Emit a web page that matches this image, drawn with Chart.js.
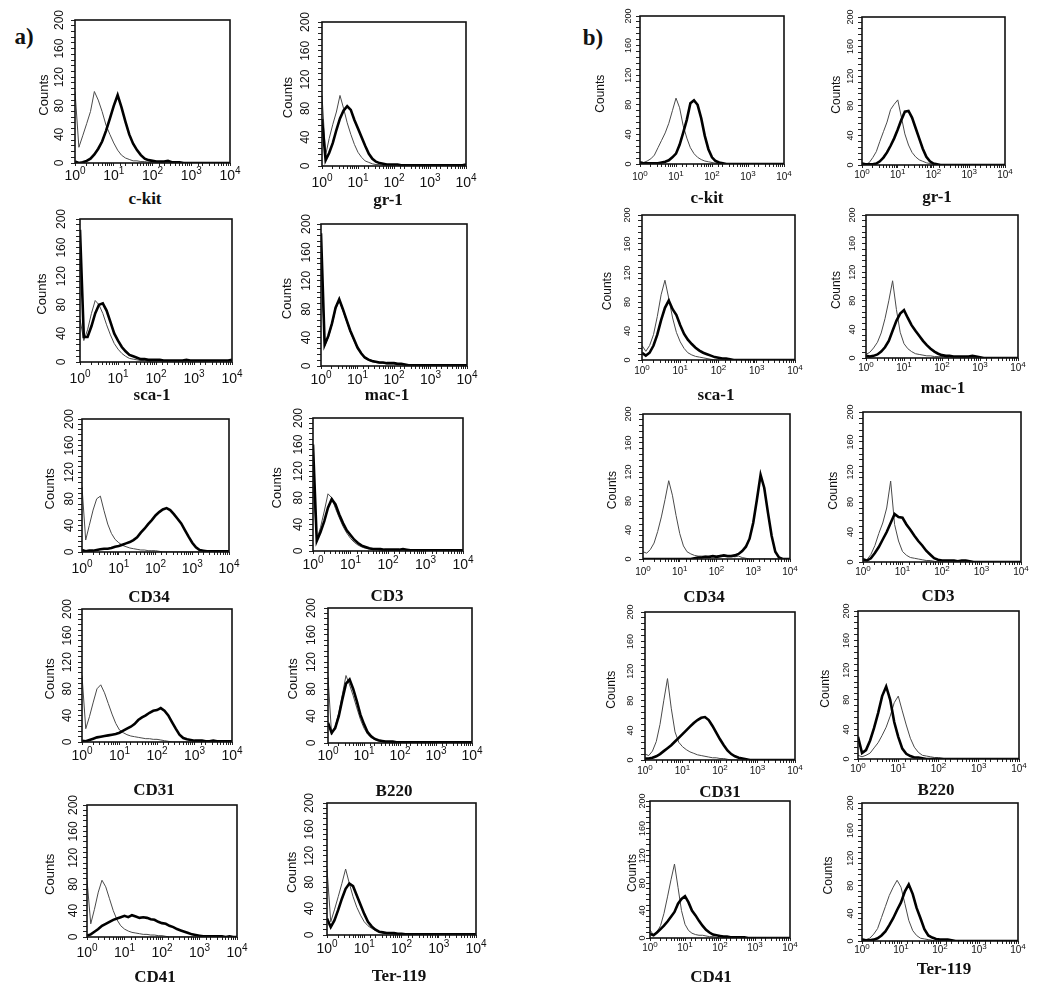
<!DOCTYPE html>
<html lang="en">
<head>
<meta charset="UTF-8">
<title>Flow cytometry histograms</title>
<script src="https://cdn.jsdelivr.net/npm/chart.js@4.4.1/dist/chart.umd.min.js"></script>
<style>
  body { margin: 0; background: #fff; }
  #page { position: relative; width: 1050px; height: 1003px; overflow: hidden; background: #fff; }
  #page canvas { position: absolute; }
  .marker { position: absolute; transform: translate(-50%, -50%); font: bold 17px "Liberation Serif", "Times New Roman", serif; color: #111; white-space: nowrap; }
  .part { position: absolute; transform: translate(-50%, -50%); font: bold 23px "Liberation Serif", "Times New Roman", serif; color: #111; }
</style>
</head>
<body>
<div id="page">
  <div class="part" style="left:24px; top:37px;">a)</div>
  <div class="part" style="left:593px; top:38px;">b)</div>
</div>
<script>
// fluorescence channels, 10 per decade from 10^0 to 10^4
const logX = [1, 1.26, 1.58, 2, 2.51, 3.16, 3.98, 5.01, 6.31, 7.94,
  10, 12.6, 15.8, 20, 25.1, 31.6, 39.8, 50.1, 63.1, 79.4,
  100, 126, 158, 200, 251, 316, 398, 501, 631, 794,
  1000, 1259, 1585, 1995, 2512, 3162, 3981, 5012, 6310, 7943,
  10000];
const countTicks = [0, 40, 80, 120, 160, 200];
const decadeTicks = [1, 10, 100, 1000, 10000];
const decadeExp = ['0', '1', '2', '3', '4'];
const markers = ['c-kit', 'gr-1', 'sca-1', 'mac-1', 'CD34', 'CD3', 'CD31', 'B220', 'CD41', 'Ter-119'];

// a) thin = control, thick = stained
const aCkitThin   = [100,22,38,55,72,100,88,72,53,40, 28,18,11,7,5,3,3,2,2,1, 1,1,1,0,0,0,0,0,0,0, 0,0,0,0,0,0,0,0,0,0, 0];
const aCkitThick  = [2,0,1,3,6,12,20,30,45,62, 80,95,78,58,40,27,18,11,6,4, 3,2,2,2,3,1,1,1,0,0, 0,0,0,0,0,0,0,0,0,0, 0];
const aGr1Thin    = [98,15,38,58,75,98,80,60,44,30, 19,12,7,5,3,2,2,1,0,0, 0,0,0,0,0,0,0,0,0,0, 0,0,0,0,0,0,0,0,0,0, 0];
const aGr1Thick   = [65,8,18,32,50,66,77,83,78,64, 52,40,28,17,10,6,4,3,2,2, 2,2,1,1,1,1,1,1,1,1, 1,1,1,1,1,1,1,1,1,1, 2];
const aScaThin    = [60,30,45,68,86,80,68,52,38,26, 18,12,8,5,4,3,2,2,1,0, 0,0,0,0,0,0,0,0,0,0, 0,0,0,0,0,0,0,0,0,0, 0];
const aScaThick   = [185,35,35,50,68,80,82,72,56,40, 30,21,15,10,8,6,4,4,3,3, 3,3,2,2,2,2,2,2,3,2, 2,2,2,2,2,2,2,2,2,2, 3];
const aMac1Thin   = [150,28,40,58,80,92,78,63,48,36, 25,17,11,8,6,5,4,4,3,3, 3,2,2,1,0,0,0,0,0,0, 0,0,0,0,0,0,0,0,0,0, 0];
const aMac1Thick  = [187,30,42,60,82,94,80,65,50,38, 26,18,12,9,7,6,5,5,4,4, 4,3,3,2,1,1,1,1,1,1, 1,1,1,1,1,1,1,1,1,1, 1];
const aCd34Thin   = [98,18,40,63,80,84,62,42,28,19, 14,10,8,6,5,4,3,3,2,2, 2,1,0,0,0,0,0,0,0,0, 0,0,0,0,0,0,0,0,0,0, 0];
const aCd34Thick  = [3,1,2,2,3,4,5,5,6,8, 9,11,13,15,18,22,29,35,42,48, 55,60,64,66,63,57,50,43,33,23, 14,7,3,2,1,1,1,1,1,1, 1];
const aCd3Thin    = [100,18,35,60,86,80,64,50,37,27, 19,13,9,6,4,3,2,2,1,0, 0,0,0,0,0,0,0,0,0,0, 0,0,0,0,0,0,0,0,0,0, 0];
const aCd3Thick   = [160,15,28,45,65,78,70,55,42,31, 24,17,12,8,6,4,3,3,3,2, 2,2,2,2,3,2,1,1,1,1, 1,1,1,1,1,1,1,1,1,1, 1];
const aCd31Thin   = [100,20,38,60,80,86,74,58,42,28, 18,14,11,9,8,7,6,5,5,4, 4,3,2,1,0,0,0,0,0,0, 0,0,0,0,0,0,0,0,0,0, 0];
const aCd31Thick  = [2,1,3,5,7,8,9,10,11,12, 14,17,20,23,27,33,37,40,44,47, 48,51,47,40,30,20,11,6,4,3, 2,2,2,1,1,2,1,1,1,1, 1];
const aB220Thin   = [98,12,24,45,72,100,86,70,52,35, 22,13,8,5,3,2,1,0,0,0, 0,0,0,0,0,0,0,0,0,0, 0,0,0,0,0,0,0,0,0,0, 0];
const aB220Thick  = [30,15,22,40,65,88,94,80,62,42, 28,16,10,6,4,3,2,2,2,1, 1,1,1,1,1,1,1,1,1,1, 1,1,1,1,1,1,1,1,1,1, 1];
const aCd41Thin   = [86,20,42,68,86,76,58,40,26,17, 12,9,7,6,5,4,4,3,3,2, 2,1,0,0,0,0,0,0,0,0, 0,0,0,0,0,0,0,0,0,0, 0];
const aCd41Thick  = [2,4,8,12,17,20,23,26,28,30, 32,30,33,31,29,30,29,27,26,23, 21,20,17,15,12,10,8,6,4,3, 2,1,1,1,1,1,1,0,1,0, 0];
const aTer119Thin = [100,20,38,58,78,100,78,58,42,30, 20,14,10,7,5,3,2,2,1,0, 0,0,0,0,0,0,0,0,0,0, 0,0,0,0,0,0,0,0,0,0, 0];
const aTer119Thick= [25,12,22,38,55,70,78,74,60,46, 32,20,13,8,5,4,3,3,3,2, 2,1,1,1,1,1,1,1,1,1, 1,1,1,1,1,1,1,1,1,1, 1];

// b)
const bCkitThin   = [3,2,4,7,12,22,32,42,55,72, 89,76,52,35,22,14,9,6,4,3, 2,1,0,0,0,0,0,0,0,0, 0,0,0,0,0,0,0,0,0,0, 0];
const bCkitThick  = [2,1,1,1,1,1,2,3,5,9, 14,26,42,60,82,86,80,62,38,20, 9,4,2,1,0,0,0,0,0,0, 0,0,0,0,0,0,0,0,0,0, 0];
const bGr1Thin    = [3,1,3,10,18,32,45,58,75,82, 88,65,42,27,17,11,7,5,3,2, 1,0,0,0,0,0,0,0,0,0, 0,0,0,0,0,0,0,0,0,0, 0];
const bGr1Thick   = [2,1,1,1,2,5,10,17,26,36, 48,61,72,73,64,50,36,22,11,5, 2,1,0,0,0,0,0,0,0,0, 0,0,0,0,0,0,0,0,0,0, 0];
const bScaThin    = [20,12,20,35,60,90,110,85,58,38, 25,16,10,7,5,4,3,2,1,0, 0,0,0,0,0,0,0,0,0,0, 0,0,0,0,0,0,0,0,0,0, 0];
const bScaThick   = [10,6,10,20,35,55,72,82,70,62, 48,36,28,22,17,13,10,8,6,4, 3,2,2,1,0,0,0,0,0,0, 0,0,0,0,0,0,0,0,0,0, 0];
const bMac1Thin   = [5,8,14,22,35,55,80,108,68,36, 20,13,9,6,5,4,3,3,2,2, 2,1,0,0,0,0,0,0,0,0, 0,0,0,0,0,0,0,0,0,0, 0];
const bMac1Thick  = [3,2,3,5,9,15,24,38,52,62, 67,56,46,38,31,24,18,13,9,6, 4,3,3,2,2,2,2,2,3,2, 1,0,0,0,0,0,0,0,0,0, 0];
const bCd34Thin   = [10,8,13,22,38,58,82,108,88,60, 35,18,10,7,5,4,4,4,3,4, 4,5,4,4,4,3,4,2,1,0, 0,0,0,0,0,0,0,0,0,0, 0];
const bCd34Thick  = [0,0,0,0,0,0,0,0,0,0, 0,0,0,0,1,2,2,3,3,4, 3,4,5,4,4,5,7,11,17,28, 50,82,116,98,64,32,10,2,0,0, 0];
const bCd3Thin    = [5,3,10,22,38,52,72,108,50,28, 14,9,6,5,4,3,2,2,1,0, 0,0,0,0,0,0,0,0,0,0, 0,0,0,0,0,0,0,0,0,0, 0];
const bCd3Thick   = [3,2,5,12,20,30,40,52,64,60, 59,50,43,35,28,22,15,10,5,3, 2,2,2,2,1,2,2,1,0,0, 0,0,0,0,0,0,0,0,0,0, 0];
const bCd31Thin   = [8,6,12,25,48,80,110,70,38,24, 18,14,11,9,7,6,5,4,3,3, 2,2,1,0,0,0,0,0,0,0, 0,0,0,0,0,0,0,0,0,0, 0];
const bCd31Thick  = [2,2,3,5,8,12,16,20,25,30, 35,40,45,50,54,57,58,54,46,37, 28,20,13,8,5,3,2,1,0,0, 0,0,0,0,0,0,0,0,0,0, 0];
const bB220Thin   = [5,3,5,8,15,22,32,43,58,76, 85,65,46,28,16,9,5,4,3,2, 2,1,0,0,0,0,0,0,0,0, 0,0,0,0,0,0,0,0,0,0, 0];
const bB220Thick  = [30,8,12,25,42,62,85,98,80,50, 30,14,7,4,2,2,1,0,0,0, 0,0,0,0,0,0,0,0,0,0, 0,0,0,0,0,0,0,0,0,0, 0];
const bCd41Thin   = [12,4,9,18,36,60,85,108,74,40, 20,11,7,5,4,4,3,2,2,1, 0,0,0,0,0,0,0,0,0,0, 0,0,0,0,0,0,0,0,0,0, 0];
const bCd41Thick  = [6,4,8,13,18,24,31,38,50,57, 61,52,40,33,25,18,12,8,5,4, 3,2,2,1,1,1,1,1,0,0, 0,0,0,0,0,0,0,0,0,0, 0];
const bTer119Thin = [3,2,4,10,18,34,50,66,78,88, 78,54,30,15,8,4,3,2,1,0, 0,0,0,0,0,0,0,0,0,0, 0,0,0,0,0,0,0,0,0,0, 0];
const bTer119Thick= [2,1,1,2,4,8,14,23,33,45, 56,72,82,68,48,33,17,8,5,3, 2,2,2,1,0,0,0,0,0,0, 0,0,0,0,0,0,0,0,0,0, 0];

// panels in reading order: row by row, left then right
const seriesA = [
  [aCkitThin, aCkitThick], [aGr1Thin, aGr1Thick], [aScaThin, aScaThick], [aMac1Thin, aMac1Thick],
  [aCd34Thin, aCd34Thick], [aCd3Thin, aCd3Thick], [aCd31Thin, aCd31Thick], [aB220Thin, aB220Thick],
  [aCd41Thin, aCd41Thick], [aTer119Thin, aTer119Thick]
];
const seriesB = [
  [bCkitThin, bCkitThick], [bGr1Thin, bGr1Thick], [bScaThin, bScaThick], [bMac1Thin, bMac1Thick],
  [bCd34Thin, bCd34Thick], [bCd3Thin, bCd3Thick], [bCd31Thin, bCd31Thick], [bB220Thin, bB220Thick],
  [bCd41Thin, bCd41Thick], [bTer119Thin, bTer119Thick]
];

// plot boxes [left, top, right, bottom] on the page, gaps for the axis texts, label placement
const layoutA = [
  { box: [75, 20, 230, 163],   tickGap: 15, countsGap: 31, xGap: 17, label: [145, 199] },
  { box: [322, 22, 466, 166],  tickGap: 16, countsGap: 34, xGap: 21, label: [388, 200] },
  { box: [80, 219, 232, 362],  tickGap: 18, countsGap: 38, xGap: 21, label: [152, 395] },
  { box: [321, 224, 467, 366], tickGap: 14, countsGap: 34, xGap: 18, label: [387, 395] },
  { box: [82, 419, 229, 552],  tickGap: 12, countsGap: 32, xGap: 21, label: [149, 597] },
  { box: [313, 418, 463, 551], tickGap: 14, countsGap: 36, xGap: 18, label: [387, 596] },
  { box: [82, 609, 232, 742],  tickGap: 14, countsGap: 32, xGap: 18, label: [154, 790] },
  { box: [328, 608, 472, 743], tickGap: 16, countsGap: 35, xGap: 17, label: [394, 791] },
  { box: [87, 805, 237, 937],  tickGap: 13, countsGap: 37, xGap: 20, label: [155, 977] },
  { box: [327, 803, 476, 935], tickGap: 17, countsGap: 35, xGap: 18, label: [399, 976] }
];
const layoutB = [
  { box: [640, 16, 784, 164],   tickGap: 11, countsGap: 39, xGap: 16, label: [707, 198] },
  { box: [862, 17, 1005, 165],  tickGap: 11, countsGap: 25, xGap: 13, label: [937, 197] },
  { box: [642, 215, 795, 360],  tickGap: 14, countsGap: 34, xGap: 14, label: [716, 395] },
  { box: [866, 215, 1018, 358], tickGap: 13, countsGap: 29, xGap: 13, label: [943, 388] },
  { box: [643, 414, 790, 559],  tickGap: 14, countsGap: 30, xGap: 16, label: [704, 597] },
  { box: [863, 412, 1021, 562], tickGap: 12, countsGap: 29, xGap: 13, label: [938, 596] },
  { box: [645, 612, 795, 760],  tickGap: 14, countsGap: 33, xGap: 14, label: [720, 792] },
  { box: [858, 611, 1019, 759], tickGap: 11, countsGap: 32, xGap: 13, label: [936, 790] },
  { box: [650, 801, 790, 938],  tickGap: 7,  countsGap: 17, xGap: 13, label: [711, 977] },
  { box: [862, 803, 1018, 941], tickGap: 11, countsGap: 33, xGap: 12, label: [944, 969] }
];

const styleA = { yFont: 12, xFont: 14, xExp: 10, counts: 13 };
const styleB = { yFont: 9, xFont: 10, xExp: 8, counts: 12 };
const M = { left: 48, top: 12, right: 16, bottom: 26 };
const SANS = '"Liberation Sans", Arial, sans-serif';

function framePlugin(lay, st) {
  return {
    id: 'frame',
    afterDraw(chart) {
      const { ctx, chartArea: a } = chart;
      const x = chart.scales.x, y = chart.scales.y;
      ctx.save();
      ctx.strokeStyle = '#111';
      ctx.lineWidth = 1.6;
      ctx.strokeRect(a.left, a.top, a.right - a.left, a.bottom - a.top);

      ctx.fillStyle = '#111';
      ctx.textAlign = 'center';
      ctx.textBaseline = 'middle';
      ctx.font = st.yFont + 'px ' + SANS;
      countTicks.forEach(v => {
        ctx.save();
        ctx.translate(a.left - lay.tickGap, y.getPixelForValue(v));
        ctx.rotate(-Math.PI / 2);
        ctx.fillText(String(v), 0, 0);
        ctx.restore();
      });

      ctx.font = st.counts + 'px ' + SANS;
      ctx.save();
      ctx.translate(a.left - lay.countsGap, y.getPixelForValue(95));
      ctx.rotate(-Math.PI / 2);
      ctx.fillText('Counts', 0, 0);
      ctx.restore();

      ctx.textAlign = 'left';
      ctx.textBaseline = 'alphabetic';
      decadeTicks.forEach((v, i) => {
        const px = x.getPixelForValue(v);
        ctx.font = st.xFont + 'px ' + SANS;
        const w1 = ctx.measureText('10').width;
        ctx.font = st.xExp + 'px ' + SANS;
        const w2 = ctx.measureText(decadeExp[i]).width;
        const x0 = px - (w1 + w2) / 2;
        ctx.font = st.xFont + 'px ' + SANS;
        ctx.fillText('10', x0, a.bottom + lay.xGap);
        ctx.font = st.xExp + 'px ' + SANS;
        ctx.fillText(decadeExp[i], x0 + w1, a.bottom + lay.xGap - Math.round(st.xFont * 0.42));
      });
      ctx.restore();
    }
  };
}

function drawPanel(pair, lay, st, marker) {
  const page = document.getElementById('page');
  const [l, t, r, b] = lay.box;
  const canvas = document.createElement('canvas');
  canvas.width = r - l + M.left + M.right;
  canvas.height = b - t + M.top + M.bottom;
  canvas.style.left = (l - M.left) + 'px';
  canvas.style.top = (t - M.top) + 'px';
  page.appendChild(canvas);

  const lbl = document.createElement('div');
  lbl.className = 'marker';
  lbl.textContent = marker;
  lbl.style.left = lay.label[0] + 'px';
  lbl.style.top = lay.label[1] + 'px';
  page.appendChild(lbl);

  const [thin, thick] = pair;
  new Chart(canvas, {
    type: 'line',
    data: {
      datasets: [
        { data: logX.map((v, i) => ({ x: v, y: thick[i] })), borderColor: '#000', borderWidth: 2.6, pointRadius: 0, tension: 0 },
        { data: logX.map((v, i) => ({ x: v, y: thin[i] })), borderColor: '#4a4a4a', borderWidth: 1, pointRadius: 0, tension: 0 }
      ]
    },
    options: {
      responsive: false,
      animation: false,
      devicePixelRatio: 1,
      layout: { padding: { left: 0, top: M.top, right: M.right, bottom: 0 } },
      plugins: { legend: { display: false }, tooltip: { enabled: false } },
      scales: {
        x: {
          type: 'logarithmic', min: 1, max: 10000,
          grid: { drawOnChartArea: false, tickLength: 3, color: '#222' },
          border: { display: false },
          ticks: { display: false, autoSkip: false },
          afterFit(s) { s.height = M.bottom; }
        },
        y: {
          min: 0, max: 200,
          grid: { drawOnChartArea: false, tickLength: 4, color: '#222' },
          border: { display: false },
          ticks: { display: false, stepSize: 8 },
          afterFit(s) { s.width = M.left; }
        }
      }
    },
    plugins: [framePlugin(lay, st)]
  });
}

seriesA.forEach((pair, i) => drawPanel(pair, layoutA[i], styleA, markers[i]));
seriesB.forEach((pair, i) => drawPanel(pair, layoutB[i], styleB, markers[i]));
</script>
</body>
</html>
